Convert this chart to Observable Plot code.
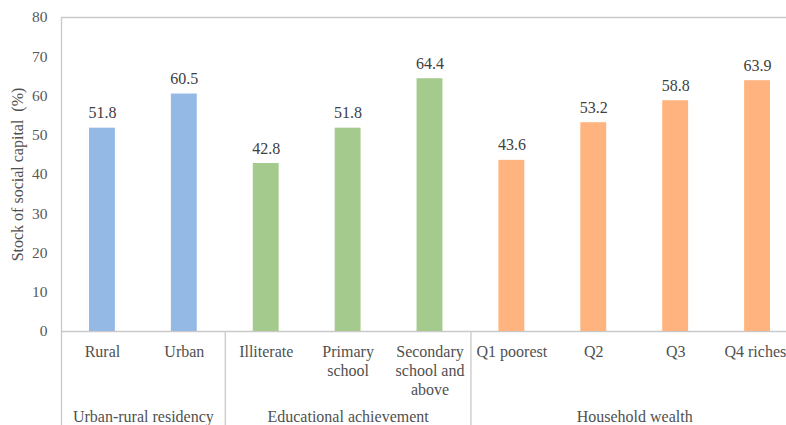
<!DOCTYPE html>
<html>
<head>
<meta charset="utf-8">
<script src="https://cdn.jsdelivr.net/npm/d3@7"></script>
<script src="https://cdn.jsdelivr.net/npm/@observablehq/plot@0.6"></script>
<style>
  html, body { margin: 0; padding: 0; background: #fff; overflow: hidden; }
  #chart svg { display: block; }
</style>
</head>
<body>
<div id="chart"></div>
<script>
// Stock of social capital by residency, education and wealth
const categories = ["Rural", "Urban", "Illiterate", "Primary\nschool", "Secondary\nschool and\nabove", "Q1 poorest", "Q2", "Q3", "Q4 richest"];
const values = [51.8, 60.5, 42.8, 51.8, 64.4, 43.6, 53.2, 58.8, 63.9];
const groups = ["Urban-rural residency", "Educational achievement", "Household wealth"];
const groupSizes = [2, 3, 4];
const groupColors = ["#95B9E5", "#A5CA8E", "#FFB480"];
const yTicks = [0, 10, 20, 30, 40, 50, 60, 70, 80];
const yLabel = "Stock of social capital  (%)";

// Slot index per category, and the slot range covered by each group
const groupStarts = groupSizes.map((n, i) => d3.sum(groupSizes.slice(0, i)));
const groupOf = groupSizes.flatMap((n, g) => Array(n).fill(g));
const rows = categories.map((c, i) => ({
  label: c, value: values[i], group: groups[groupOf[i]], i
}));
const groupRows = groups.map((g, k) => ({
  name: g, start: groupStarts[k], end: groupStarts[k] + groupSizes[k]
}));
const nSlots = categories.length;

const lineColor = "#C9C9C9";
const font = "'Times New Roman', 'Liberation Serif', 'DejaVu Serif', Times, serif";

const chart = Plot.plot({
  width: 786,
  height: 425,
  marginTop: 17,
  marginBottom: 94,
  marginLeft: 61,
  marginRight: 0,
  style: `background: #fff; overflow: hidden; font-family: ${font};`,
  x: { type: "linear", domain: [0, nSlots], range: [61, 798], axis: null },
  y: { domain: [0, 80], axis: null },
  color: { domain: groups, range: groupColors },
  marks: [
    // frame: top edge, baseline, left edge and group dividers
    Plot.ruleY([80], { x1: 0, x2: nSlots, stroke: lineColor, strokeWidth: 1.3 }),
    Plot.ruleY([0], { x1: 0, x2: nSlots, stroke: lineColor, strokeWidth: 1.3 }),
    Plot.ruleX([0], { y1: 80, y2: 0, insetBottom: -94, stroke: lineColor, strokeWidth: 1.3 }),
    Plot.ruleX(groupStarts.slice(1), { y1: 0, y2: 0, insetBottom: -94, stroke: lineColor, strokeWidth: 1.3 }),

    // bars
    Plot.rectY(rows, {
      x1: d => d.i, x2: d => d.i + 1, y: "value", fill: "group",
      insetLeft: 28, insetRight: 28
    }),

    // value labels
    Plot.text(rows, {
      x: d => d.i + 0.5, y: "value", text: d => d.value.toFixed(1),
      lineAnchor: "bottom", dy: -10, fontSize: 16, fontFamily: font, fill: "#404040"
    }),

    // category labels
    Plot.text(rows, {
      x: d => d.i + 0.5, y: 0, text: "label",
      lineAnchor: "top", dy: 12, fontSize: 16, fontFamily: font, lineHeight: 1.19, fill: "#505050"
    }),

    // group labels
    Plot.text(groupRows, {
      x: d => (d.start + d.end) / 2, y: 0, text: "name",
      lineAnchor: "bottom", dy: 90, fontSize: 16, fontFamily: font, fill: "#505050"
    }),

    // y axis
    Plot.axisY(yTicks, {
      tickSize: 0, tickPadding: 14, fontSize: 15.5, fontFamily: font, fill: "#595959",
      tickFormat: d => d, label: null
    }),
    Plot.text([yLabel], {
      frameAnchor: "left", rotate: -90, dx: -44, textAnchor: "middle",
      lineAnchor: "middle", fontSize: 16, fontFamily: font, fill: "#505050"
    })
  ]
});

document.getElementById("chart").appendChild(chart);
</script>
</body>
</html>
